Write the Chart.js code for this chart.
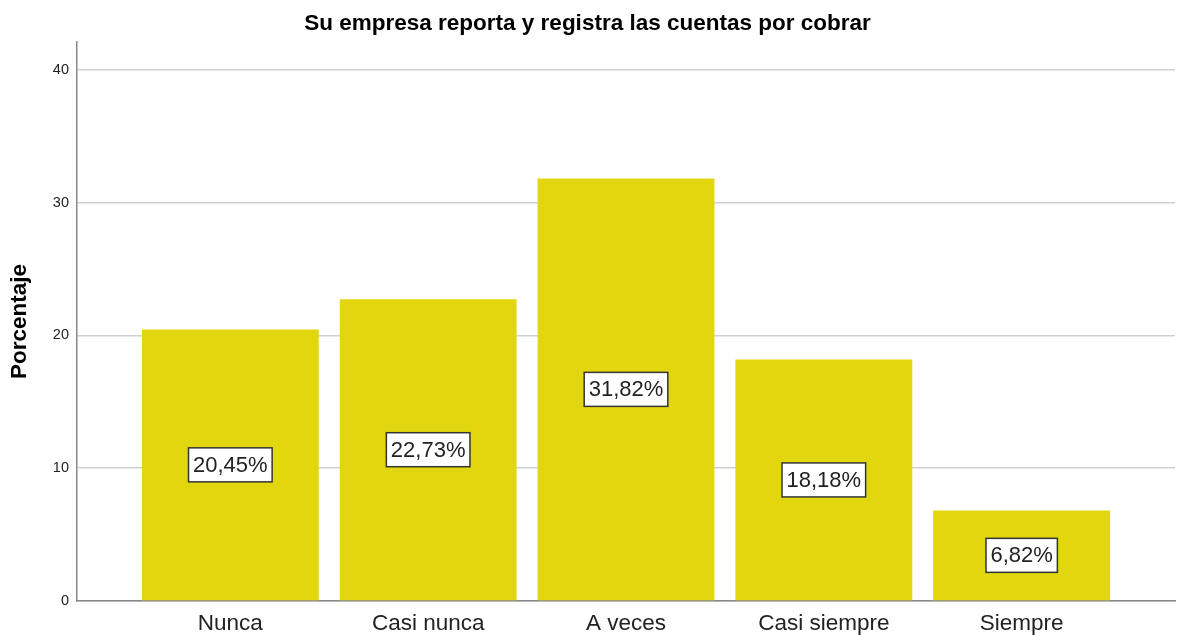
<!DOCTYPE html>
<html>
<head>
<meta charset="utf-8">
<script src="https://cdn.jsdelivr.net/npm/chart.js@4"></script>
<style>
  html, body { margin: 0; padding: 0; background: #fff; }
  #wrap { width: 1179px; height: 635px; }
</style>
</head>
<body>
<div id="wrap"><canvas id="grafico" width="1179" height="635"></canvas></div>
<script>
const categorias = ["Nunca", "Casi nunca", "A veces", "Casi siempre", "Siempre"];
const porcentajes = [20.45, 22.73, 31.82, 18.18, 6.82];
const ticksY = [0, 10, 20, 30, 40];

function formatarPct(v) {
    return v.toFixed(2).replace(".", ",") + "%";
}

// rotulos em caixa branca no meio de cada barra
const rotulos = {
    id: "rotulos",
    afterDatasetsDraw(chart) {
        const ctx = chart.ctx;
        const meta = chart.getDatasetMeta(0);
        ctx.save();
        ctx.font = "22px 'Liberation Sans', Arial, sans-serif";
        ctx.textAlign = "center";
        ctx.textBaseline = "middle";
        meta.data.forEach((bar, i) => {
            const txt = formatarPct(porcentajes[i]);
            const w = ctx.measureText(txt).width + 9;
            const h = 34;
            const cx = bar.x;
            const cy = (bar.y + bar.base) / 2;
            ctx.fillStyle = "#ffffff";
            ctx.fillRect(cx - w / 2, cy - h / 2, w, h);
            ctx.strokeStyle = "#333333";
            ctx.lineWidth = 1.5;
            ctx.strokeRect(cx - w / 2, cy - h / 2, w, h);
            ctx.fillStyle = "#222222";
            ctx.fillText(txt, cx, cy + 1);
        });
        ctx.restore();
    }
};

new Chart(document.getElementById("grafico"), {
    type: "bar",
    data: {
        datasets: [{
            data: porcentajes.map((v, i) => ({ x: i, y: v })),
            backgroundColor: "#e2d70f",
            borderWidth: 0,
            categoryPercentage: 1,
            barPercentage: 0.894
        }]
    },
    options: {
        responsive: false,
        animation: false,
        layout: { padding: { left: 0, right: 4, top: 0, bottom: 0 } },
        plugins: {
            legend: { display: false },
            tooltip: { enabled: false },
            title: {
                display: true,
                text: "Su empresa reporta y registra las cuentas por cobrar",
                color: "#000",
                font: { family: "'Liberation Sans', Arial, sans-serif", size: 22.5, weight: "bold" },
                padding: { top: 10, bottom: 5 }
            }
        },
        scales: {
            x: {
                type: "linear",
                offset: false,
                min: -0.775,
                max: 4.775,
                afterBuildTicks(scale) {
                    scale.ticks = categorias.map((c, i) => ({ value: i }));
                },
                afterFit(scale) { scale.height = 34; },
                grid: { display: false, drawTicks: false, offset: false },
                border: { color: "#888", width: 1.5 },
                ticks: {
                    callback: v => categorias[v],
                    color: "#222",
                    padding: 9,
                    maxRotation: 0,
                    autoSkip: false,
                    font: { family: "'Liberation Sans', Arial, sans-serif", size: 22.5 }
                }
            },
            y: {
                min: 0,
                max: 42.1,
                afterBuildTicks(scale) {
                    scale.ticks = ticksY.map(v => ({ value: v }));
                },
                afterFit(scale) { scale.width = 77; },
                grid: { color: "#cfcfcf", lineWidth: 1.5, drawTicks: false },
                border: { color: "#888", width: 1.5 },
                ticks: {
                    color: "#222",
                    padding: 8,
                    font: { family: "'Liberation Sans', Arial, sans-serif", size: 14.5 }
                },
                title: {
                    display: true,
                    text: "Porcentaje",
                    color: "#000",
                    padding: { top: 6, bottom: 0 },
                    font: { family: "'Liberation Sans', Arial, sans-serif", size: 22.5, weight: "bold" }
                }
            }
        }
    },
    plugins: [rotulos]
});
</script>
</body>
</html>
